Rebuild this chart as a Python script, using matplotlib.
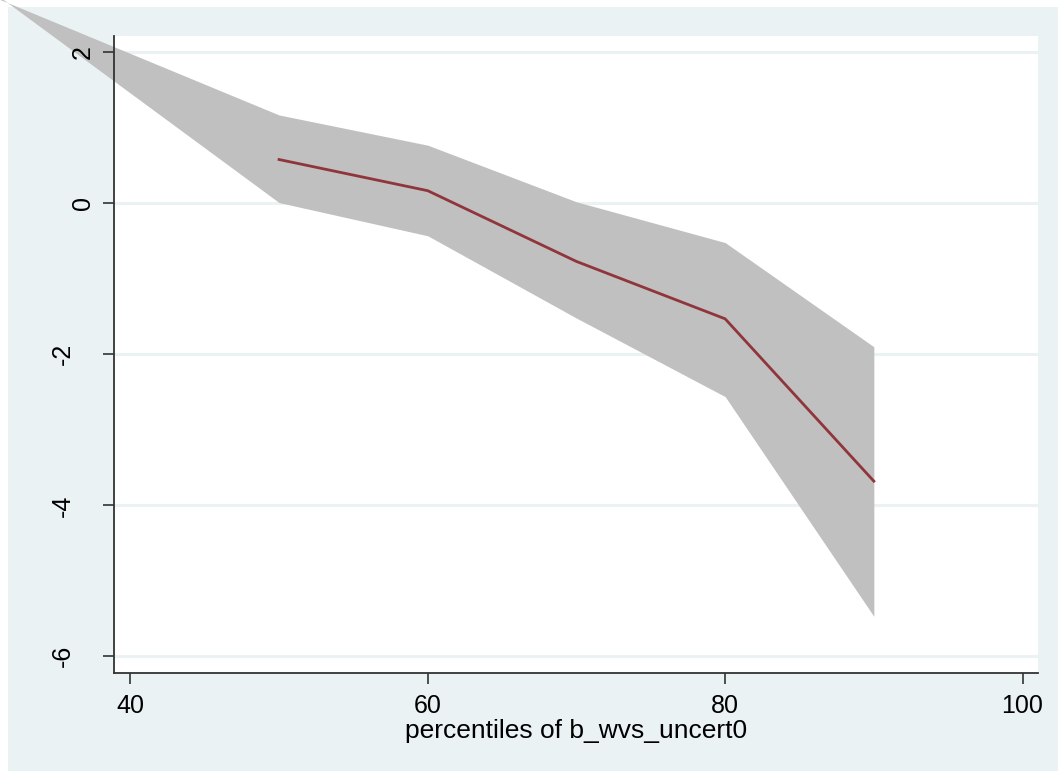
import matplotlib
matplotlib.use("Agg")
import matplotlib.pyplot as plt
from matplotlib.patches import Rectangle
from matplotlib.transforms import ScaledTranslation

# ----------------------------------------------------------------------------------------------------------------------
# data: marginal effect by percentile with confidence band
band_x = [30, 50, 60, 70, 80, 90]
band_lo = [2.91, 0.01, -0.43, -1.52, -2.56, -5.47]
band_hi = [2.80, 1.17, 0.77, 0.02, -0.52, -1.90]

line_x = [50, 60, 70, 80, 90]
line_y = [0.58, 0.167, -0.77, -1.53, -3.68]

x_ticks = [40, 60, 80, 100]
y_ticks = [-6, -4, -2, 0, 2]
x_title = 'percentiles of b_wvs_uncert0'
# ----------------------------------------------------------------------------------------------------------------------

plt.rcParams['font.family'] = ['Liberation Sans', 'DejaVu Sans']

bg_color = '#eaf2f3'
fig = plt.figure(figsize=(10.58, 7.71), dpi=100)
fig.patch.set_facecolor('white')

# graph region (light blue) with a thin white margin top and left
fig.patches.append(Rectangle((8 / 1058, 0), 1, 1 - 7 / 771, transform=fig.transFigure,
                             facecolor=bg_color, edgecolor='none', zorder=-10))

ax = fig.add_axes([114 / 1058, 1 - 672.7 / 771, (1038 - 114) / 1058, (672.7 - 36) / 771])
ax.set_facecolor('white')
ax.set_axisbelow(False)

ax.set_xlim(38.90, 101.04)
ax.set_ylim(-6.217, 2.216)

# grid lines
for yv in y_ticks:
    ax.axhline(yv, color=bg_color, lw=2.2, zorder=1)

# confidence band (not clipped, as in stata)
ax.fill_between(band_x, band_lo, band_hi, color='#c0c0c0', lw=0, zorder=2, clip_on=False)
ax.plot(line_x, line_y, color='#90353b', lw=2.0, zorder=3, solid_joinstyle='miter')

# axes
for side in ['top', 'right']:
    ax.spines[side].set_visible(False)
for side in ['left', 'bottom']:
    ax.spines[side].set_color('#333333')
    ax.spines[side].set_linewidth(1.3)

ax.set_xticks(x_ticks)
ax.set_yticks(y_ticks)
ax.set_yticklabels([str(v) for v in y_ticks], rotation=90, va='center')
ax.tick_params(axis='both', length=8, width=1.2, color='#333333', labelsize=18, labelcolor='black')
ax.tick_params(axis='x', pad=7)
ax.tick_params(axis='y', pad=6)

# negative labels sit further out from the axis
for lab, val in zip(ax.get_yticklabels(), y_ticks):
    if val < 0:
        lab.set_transform(lab.get_transform() + ScaledTranslation(-0.20, 0, fig.dpi_scale_trans))

ax.set_xlabel(x_title, fontsize=19, labelpad=1)

fig.savefig('out.png', dpi=100, facecolor=fig.get_facecolor())
